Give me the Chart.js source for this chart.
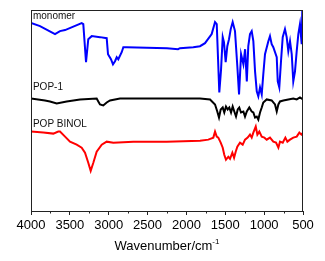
<!DOCTYPE html>
<html>
<head>
<meta charset="utf-8">
<script src="https://cdn.jsdelivr.net/npm/chart.js@4.4.1/dist/chart.umd.min.js"></script>
<style>
  html, body { margin: 0; padding: 0; background: #fff; }
  #wrap { width: 325px; height: 261px; }
</style>
</head>
<body>
<div id="wrap"><canvas id="grafIR"></canvas></div>
<script>
// wavenumber (cm-1) and offset transmittance
const monomerX = [4000, 3884, 3691, 3627, 3562, 3348, 3327, 3292, 3263, 3219, 3112, 3026, 3009, 2971, 2945, 2919, 2897, 2877, 2833, 2812, 2768, 2250, 2108, 2083, 1912, 1825, 1761, 1675, 1632, 1610, 1577, 1555, 1533, 1517, 1495, 1474, 1452, 1430, 1405, 1375, 1345, 1323, 1297, 1267, 1245, 1223, 1204, 1182, 1160, 1139, 1117, 1095, 1075, 1053, 1031, 1011, 989, 946, 925, 903, 882, 838, 825, 805, 783, 761, 732, 710, 689, 667, 645, 625, 603, 581, 560, 539, 517, 509, 500];
const monomerY = [187, 184, 176, 179, 180, 187, 186, 148, 171, 174, 173, 172, 156, 151, 146, 149, 153, 151, 158, 163, 163, 162, 161, 162, 163, 164, 167, 176, 188, 186, 118, 140, 173, 168, 148, 164, 171, 181, 188, 179, 144, 116, 156, 146, 161, 129, 164, 176, 179, 169, 139, 119, 114, 123, 116, 136, 156, 169, 174, 166, 163, 153, 129, 123, 149, 173, 181, 173, 159, 169, 156, 129, 139, 159, 176, 186, 166, 200, 200];

const pop1X = [4000, 3820, 3756, 3669, 3541, 3369, 3155, 3134, 3112, 3070, 3026, 2983, 2855, 2469, 1825, 1696, 1632, 1603, 1581, 1559, 1533, 1513, 1491, 1469, 1448, 1426, 1405, 1384, 1362, 1340, 1320, 1298, 1267, 1246, 1223, 1191, 1160, 1139, 1117, 1095, 1075, 1053, 1031, 1011, 967, 903, 860, 838, 817, 796, 753, 689, 625, 581, 539, 500];
const pop1Y = [112, 110, 109, 107, 109, 111, 112, 109, 106, 105, 108, 110, 112, 112, 112, 111, 106, 99, 93, 101, 103, 98, 104, 101, 103, 98, 104, 99, 94, 101, 103, 98, 99, 94, 99, 103, 99, 98, 93, 94, 91, 98, 103, 108, 111, 110, 106, 99, 106, 109, 110, 111, 112, 111, 113, 111];

const binolX = [4000, 3842, 3713, 3649, 3627, 3562, 3498, 3412, 3348, 3305, 3263, 3232, 3198, 3155, 3090, 3026, 2941, 2684, 2254, 1825, 1718, 1654, 1632, 1610, 1590, 1559, 1533, 1513, 1491, 1461, 1439, 1409, 1387, 1366, 1345, 1311, 1276, 1246, 1212, 1182, 1160, 1139, 1108, 1087, 1062, 1031, 997, 967, 925, 882, 847, 817, 796, 761, 727, 701, 667, 625, 581, 547, 521, 500];
const binolY = [79, 78, 77, 79, 79, 74, 69, 66, 63, 58, 48, 40, 48, 59, 66, 69, 68, 69, 69, 70, 71, 73, 79, 74, 73, 68, 63, 56, 51, 54, 52, 58, 53, 59, 64, 68, 66, 71, 73, 76, 73, 78, 84, 76, 79, 74, 73, 71, 73, 69, 68, 63, 69, 68, 73, 69, 71, 73, 74, 78, 76, 78];

const xTicks = [4000, 3500, 3000, 2500, 2000, 1500, 1000, 500];
const minorTicks = [3750, 3250, 2750, 2250, 1750, 1250, 750];

// curve names, written next to each trace
const curveNames = ['monomer', 'POP-1', 'POP BINOL'];
const namePos = [[3975, 194], [3975, 123], [3975, 86]];

const FONT = "'Liberation Sans', Arial, sans-serif";

function pontos(xs, ys) {
  return xs.map((x, i) => ({ x: x, y: ys[i] }));
}

const extras = {
  id: 'extras',
  afterDraw(chart) {
    const { ctx, chartArea: a, scales } = chart;
    const sx = scales.x, sy = scales.y;
    ctx.save();
    // frame
    ctx.strokeStyle = '#222';
    ctx.lineWidth = 1;
    ctx.strokeRect(a.left + 0.5, a.top + 0.5, a.right - a.left - 1, a.bottom - a.top);
    // minor ticks
    ctx.beginPath();
    minorTicks.forEach(w => {
      const px = Math.round(sx.getPixelForValue(w)) + 0.5;
      ctx.moveTo(px, a.bottom);
      ctx.lineTo(px, a.bottom + 2.5);
    });
    ctx.stroke();
    // curve names
    ctx.fillStyle = '#111';
    ctx.font = '10px ' + FONT;
    ctx.textBaseline = 'middle';
    ctx.textAlign = 'left';
    curveNames.forEach((t, i) => {
      ctx.fillText(t, sx.getPixelForValue(namePos[i][0]), sy.getPixelForValue(namePos[i][1]));
    });
    // axis title with superscript
    const main = 'Wavenumber/cm';
    const sup = '-1';
    ctx.font = '13px ' + FONT;
    const w1 = ctx.measureText(main).width;
    ctx.font = '8px ' + FONT;
    const w2 = ctx.measureText(sup).width;
    const x0 = (a.left + a.right) / 2 - (w1 + w2) / 2;
    const yb = 250;
    ctx.textBaseline = 'alphabetic';
    ctx.fillStyle = '#000';
    ctx.font = '13px ' + FONT;
    ctx.fillText(main, x0, yb);
    ctx.font = '8px ' + FONT;
    ctx.fillText(sup, x0 + w1, yb - 6);
    ctx.restore();
  }
};

new Chart(document.getElementById('grafIR'), {
  type: 'line',
  data: {
    datasets: [
      { data: pontos(monomerX, monomerY), borderColor: '#0000ff' },
      { data: pontos(pop1X, pop1Y), borderColor: '#000000' },
      { data: pontos(binolX, binolY), borderColor: '#ff0000' }
    ]
  },
  options: {
    responsive: true,
    maintainAspectRatio: false,
    animation: false,
    layout: { padding: { top: 10, right: 22, left: 0, bottom: 0 } },
    elements: {
      point: { radius: 0 },
      line: { borderWidth: 2, tension: 0 }
    },
    plugins: {
      legend: { display: false },
      tooltip: { enabled: false }
    },
    scales: {
      x: {
        type: 'linear',
        reverse: true,
        min: 500,
        max: 4000,
        afterFit: s => { s.height = 50; },
        afterBuildTicks: s => { s.ticks = xTicks.map(v => ({ value: v })); },
        ticks: {
          color: '#000',
          font: { family: FONT, size: 13 },
          padding: 3,
          maxRotation: 0,
          autoSkip: false,
          callback: v => String(v)
        },
        grid: {
          display: true,
          drawOnChartArea: false,
          drawTicks: true,
          tickLength: 4,
          color: '#222'
        },
        border: { display: true, color: '#222', width: 1 }
      },
      y: {
        min: 0,
        max: 200,
        afterFit: s => { s.width = 31; },
        ticks: { display: false },
        grid: { display: false },
        border: { display: true, color: '#222', width: 1 }
      }
    }
  },
  plugins: [extras]
});
</script>
</body>
</html>
